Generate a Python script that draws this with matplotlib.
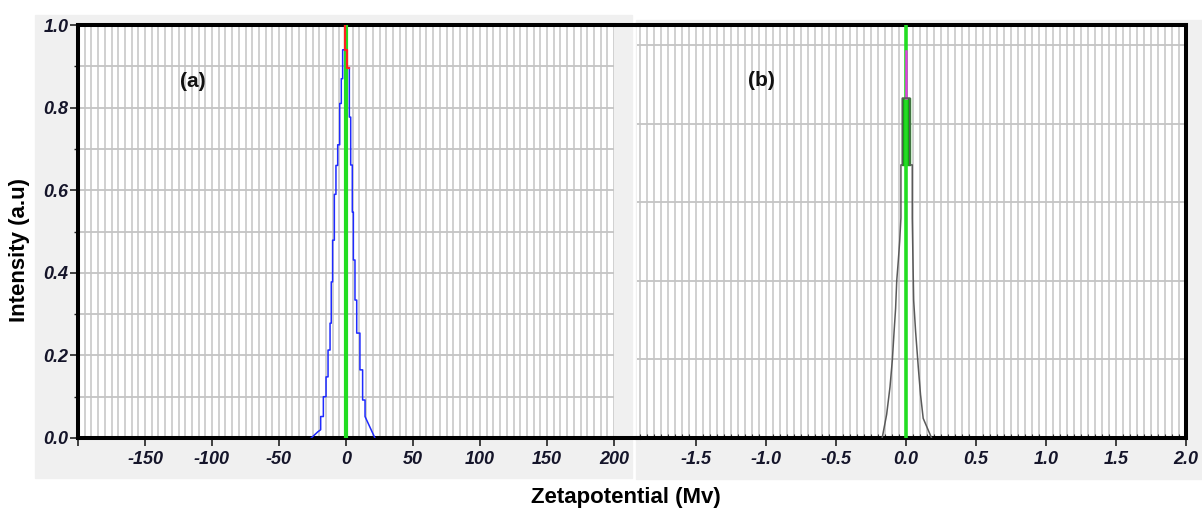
import numpy as np
import matplotlib
matplotlib.use('Agg')
import matplotlib.pyplot as plt
from matplotlib.lines import Line2D
from matplotlib.patches import Rectangle

plt.rcParams['font.family'] = ['Liberation Sans', 'DejaVu Sans']

# ---- data ----
# panel (a): blue distribution, x in mV, y intensity
blue_a_x = [-26, -21, -18.9, -18.9, -16.9, -16.9, -14.9, -14.9, -13.4, -13.4, -11.9, -11.9,
            -11.0, -11.0, -10.0, -10.0, -8.7, -8.7, -7.5, -7.5, -6.2, -6.2, -4.7, -4.7,
            -3.5, -3.5, -2.5, -2.5, -0.4]
blue_a_y = [0.0, 0.015, 0.02, 0.052, 0.052, 0.10, 0.10, 0.148, 0.148, 0.213, 0.213, 0.278,
            0.278, 0.378, 0.378, 0.479, 0.479, 0.59, 0.59, 0.66, 0.66, 0.71, 0.71, 0.81,
            0.81, 0.87, 0.87, 0.94, 0.94]
blue_a_rx = [2.5, 2.5, 3.5, 3.5, 4.7, 4.7, 5.5, 5.5, 6.7, 6.7, 8.0, 8.0, 10.4, 10.4,
             12.4, 12.4, 14.2, 14.2, 21.6]
blue_a_ry = [0.896, 0.777, 0.777, 0.661, 0.661, 0.547, 0.547, 0.431, 0.431, 0.334, 0.334,
             0.254, 0.254, 0.165, 0.165, 0.092, 0.092, 0.052, 0.0]
red_a_x = [-0.4, -0.4, 1.0, 1.0, 2.5]
red_a_y = [1.0, 0.94, 0.94, 0.896, 0.896]

# panel (b): gray distribution
gray_b_x = [-0.17, -0.138, -0.114, -0.097, -0.085, -0.074, -0.066, -0.055, -0.045, -0.036,
            -0.036, -0.026, -0.026, 0.028, 0.028, 0.045, 0.045, 0.05, 0.055, 0.069, 0.088,
            0.104, 0.123, 0.183]
gray_b_y = [0.0, 0.06, 0.13, 0.20, 0.27, 0.33, 0.40, 0.45, 0.50, 0.56,
            0.695, 0.695, 0.865, 0.865, 0.695, 0.695, 0.56, 0.45, 0.35, 0.27, 0.18,
            0.11, 0.05, 0.0]
peak_b_x = [-0.026, 0.028]
peak_b_y = [0.695, 0.865]
magenta_b_y = [0.865, 0.985]

a_ticks = [-200, -150, -100, -50, 0, 50, 100, 150, 200]
a_labels = ['', '-150', '-100', '-50', '0', '50', '100', '150', '200']
b_ticks = [-1.5, -1.0, -0.5, 0.0, 0.5, 1.0, 1.5, 2.0]
y_ticks = [0.0, 0.2, 0.4, 0.6, 0.8, 1.0]

W, H = 1202, 513
fig = plt.figure(figsize=(W / 100, H / 100), dpi=100)


def fx(px):
    return px / W


def fy(py):
    return (H - py) / H


# gray window backgrounds
fig.patches.append(Rectangle((fx(35), fy(478)), fx(632) - fx(35), fy(15) - fy(478),
                             transform=fig.transFigure, color='#f0f0f0', zorder=-10))
fig.patches.append(Rectangle((fx(636), fy(479)), fx(1202) - fx(636), fy(20) - fy(479),
                             transform=fig.transFigure, color='#f0f0f0', zorder=-10))

tick_font = dict(fontsize=13, style='italic', fontweight='bold', color='#15152a')
spine_w = 2.9
grid_c = '#cdcdcd'

# ---- panel (a) ----
ax1 = fig.add_axes([fx(78), fy(438), fx(614) - fx(78), fy(25) - fy(438)])
ax1.set_xlim(-200, 200)
ax1.set_ylim(0, 1.0)
ax1.set_axisbelow(True)
ax1.set_xticks(a_ticks)
ax1.set_xticklabels(a_labels, **tick_font)
ax1.set_xticks(np.arange(-195, 200, 5), minor=True)
ax1.set_yticks(y_ticks)
ax1.set_yticklabels([f'{v:.1f}' for v in y_ticks], **tick_font)
ax1.set_yticks([0.1, 0.3, 0.5, 0.7, 0.9], minor=True)
ax1.grid(which='both', axis='x', color=grid_c, lw=1.3)
ax1.grid(which='both', axis='y', color='#c4c4c4', lw=1.3)
ax1.tick_params(axis='x', which='major', length=6, width=1.2, pad=3, color='#222222')
ax1.tick_params(axis='x', which='minor', length=0)
ax1.tick_params(axis='y', which='major', length=6, width=1.2, pad=1, color='#222222')
ax1.tick_params(axis='y', which='minor', length=3, width=1.0, color='#222222')
for s in ['left', 'top', 'bottom']:
    ax1.spines[s].set_linewidth(spine_w)
ax1.spines['right'].set_visible(False)

ax1.plot([0, 0], [0, 1.0], color='#22dd22', lw=3.0, zorder=3)
ax1.plot(blue_a_x, blue_a_y, color='#1f2bff', lw=1.1, zorder=4)
ax1.plot(blue_a_rx, blue_a_ry, color='#1f2bff', lw=1.1, zorder=4)
ax1.plot(red_a_x, red_a_y, color='#ff2020', lw=1.6, zorder=5)
ax1.text(-114, 0.862, '(a)', fontsize=15, fontweight='bold', ha='center', va='center',
         color='#111111')

# ---- panel (b) ----
ax2 = fig.add_axes([fx(637), fy(438), fx(1186) - fx(637), fy(25) - fy(438)])
ax2.set_xlim(-1.921, 2.0)
ax2.set_ylim(0, 1.051)
ax2.set_axisbelow(True)
ax2.set_xticks(b_ticks)
ax2.set_xticklabels([f'{v:.1f}' for v in b_ticks], **tick_font)
ax2.set_xticks(np.arange(-1.9, 2.0, 0.05), minor=True)
ax2.set_yticks([0.2, 0.4, 0.6, 0.8, 1.0])
ax2.set_yticklabels([])
ax2.grid(which='both', axis='x', color=grid_c, lw=1.3)
ax2.grid(which='major', axis='y', color='#c4c4c4', lw=1.3)
ax2.tick_params(axis='x', which='major', length=6, width=1.2, pad=3, color='#222222')
ax2.tick_params(axis='x', which='minor', length=3, width=0.8, direction='in', color='#333333')
ax2.tick_params(axis='y', length=0)
for s in ['right', 'top', 'bottom']:
    ax2.spines[s].set_linewidth(spine_w)
ax2.spines['left'].set_visible(False)

ax2.fill_betweenx(peak_b_y, peak_b_x[0], peak_b_x[1], color='#12a612', zorder=3)
ax2.plot([0, 0], [0, 1.051], color='#22dd22', lw=2.6, zorder=4)
ax2.plot([-0.003, -0.003], magenta_b_y, color='#e040e0', lw=1.8, zorder=5)
ax2.plot(gray_b_x, gray_b_y, color='#5a5a5a', lw=1.1, zorder=6)
ax2.text(-1.03, 0.91, '(b)', fontsize=15, fontweight='bold', ha='center', va='center',
         color='#111111')

# spines bridging the gap between the two windows
for py in (25, 438):
    fig.add_artist(Line2D([fx(612), fx(639)], [fy(py), fy(py)], color='black',
                          lw=spine_w, transform=fig.transFigure))

fig.text(fx(626), fy(497), 'Zetapotential (Mv)', fontsize=16, fontweight='bold',
         ha='center', va='center')
fig.text(fx(20), fy(250), 'Intensity (a.u)', fontsize=16, fontweight='bold',
         ha='center', va='center', rotation=90)

fig.savefig('out.png', dpi=100)
